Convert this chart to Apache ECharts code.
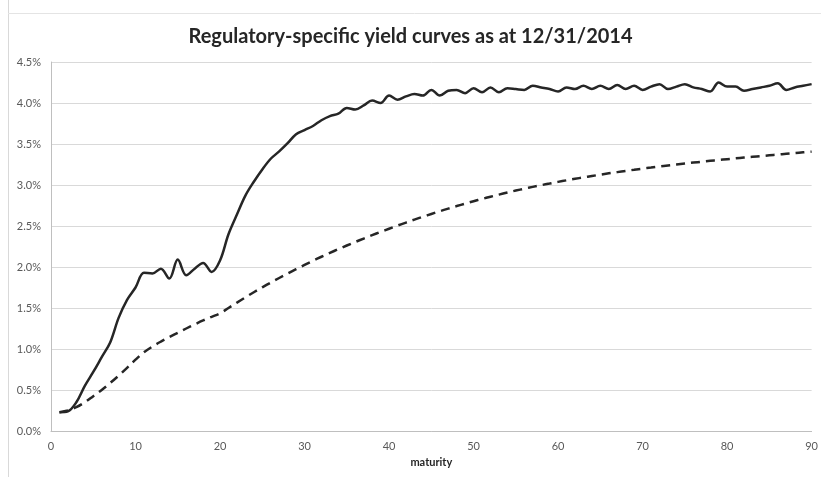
<!DOCTYPE html>
<html>
<head>
<meta charset="utf-8">
<script src="https://cdn.jsdelivr.net/npm/echarts@6/dist/echarts.min.js"></script>
<style>html,body{margin:0;padding:0;background:#fff;}#c{width:821px;height:477px;}</style>
</head>
<body>
<div id="c"></div>
<script>
var titleText = 'Regulatory-specific yield curves as at 12/31/2014';
var xAxisName = 'maturity';
var xTicks = [0, 10, 20, 30, 40, 50, 60, 70, 80, 90];
var yTicks = [0, 0.5, 1.0, 1.5, 2.0, 2.5, 3.0, 3.5, 4.0, 4.5];

var maturities = [1,2,3,4,5,6,7,8,9,10,11,12,13,14,15,16,17,18,19,20,21,22,23,24,25,26,27,28,29,30,
  31,32,33,34,35,36,37,38,39,40,41,42,43,44,45,46,47,48,49,50,51,52,53,54,55,56,57,58,59,60,
  61,62,63,64,65,66,67,68,69,70,71,72,73,74,75,76,77,78,79,80,81,82,83,84,85,86,87,88,89,90];

// solid curve (%)
var solidCurve = [0.23,0.24,0.35,0.55,0.72,0.90,1.08,1.38,1.60,1.75,
  1.93,1.92,1.98,1.86,2.09,1.90,1.98,2.05,1.94,2.08,
  2.40,2.64,2.87,3.04,3.19,3.32,3.41,3.51,3.62,3.67,
  3.72,3.79,3.84,3.87,3.94,3.92,3.97,4.03,4.00,4.09,
  4.04,4.08,4.11,4.09,4.16,4.09,4.15,4.16,4.12,4.18,
  4.13,4.19,4.13,4.18,4.17,4.16,4.21,4.19,4.17,4.14,
  4.19,4.17,4.21,4.17,4.21,4.17,4.22,4.17,4.21,4.16,
  4.20,4.23,4.17,4.20,4.23,4.19,4.17,4.14,4.25,4.20,
  4.20,4.15,4.17,4.19,4.21,4.24,4.16,4.19,4.21,4.23];

// dashed curve (%)
var dashedCurve = [0.230,0.250,0.290,0.350,0.425,0.500,0.585,0.675,0.770,0.870,
  0.960,1.030,1.090,1.145,1.198,1.250,1.300,1.348,1.392,1.435,
  1.500,1.565,1.630,1.692,1.752,1.810,1.866,1.920,1.973,2.025,
  2.076,2.125,2.172,2.218,2.262,2.305,2.347,2.388,2.428,2.467,
  2.505,2.542,2.578,2.613,2.647,2.680,2.712,2.743,2.773,2.802,
  2.830,2.857,2.883,2.908,2.932,2.955,2.977,2.998,3.018,3.038,
  3.057,3.075,3.093,3.110,3.126,3.142,3.157,3.172,3.186,3.200,
  3.213,3.226,3.238,3.250,3.262,3.273,3.284,3.295,3.305,3.315,
  3.325,3.335,3.344,3.353,3.362,3.371,3.380,3.389,3.398,3.407];

function pairs(xs, ys) { return xs.map(function (x, i) { return [x, ys[i]]; }); }

var chart = echarts.init(document.getElementById('c'), null, {renderer: 'canvas'});
chart.setOption({
  animation: false,
  backgroundColor: '#ffffff',
  title: {
    text: titleText, left: 'center', top: 22,
    textStyle: {fontFamily: 'Lato', fontWeight: 'bold', fontSize: 20, color: '#262626'}
  },
  graphic: [
    {type: 'line', shape: {x1: 8.5, y1: 0, x2: 8.5, y2: 477}, style: {stroke: '#d9d9d9', lineWidth: 1}},
    {type: 'line', shape: {x1: 8, y1: 13.5, x2: 821, y2: 13.5}, style: {stroke: '#e4e4e4', lineWidth: 1}}
  ],
  grid: {left: 51, right: 8, top: 62, bottom: 46, containLabel: false},
  xAxis: {
    type: 'value', min: xTicks[0], max: xTicks[xTicks.length - 1], interval: 10,
    name: xAxisName, nameLocation: 'middle', nameGap: 26,
    nameTextStyle: {fontFamily: 'Lato', fontWeight: 'bold', fontSize: 11, color: '#262626'},
    axisLine: {lineStyle: {color: '#bfbfbf', width: 1}},
    axisTick: {show: false},
    splitLine: {show: false},
    axisLabel: {fontFamily: 'Lato', fontSize: 11, color: '#595959', margin: 10}
  },
  yAxis: {
    type: 'value', min: yTicks[0], max: yTicks[yTicks.length - 1], interval: 0.5,
    axisLine: {show: true, lineStyle: {color: '#bfbfbf', width: 1}},
    axisTick: {show: false},
    splitLine: {lineStyle: {color: '#d9d9d9', width: 1}},
    axisLabel: {fontFamily: 'Lato', fontSize: 11, color: '#595959', margin: 10,
      formatter: function (v) { return v.toFixed(1) + '%'; }}
  },
  series: [
    {type: 'line', data: pairs(maturities, solidCurve), smooth: 0.35, showSymbol: false,
      lineStyle: {color: '#262626', width: 2.5}},
    {type: 'line', data: pairs(maturities, dashedCurve), smooth: 0.35, showSymbol: false,
      lineStyle: {color: '#262626', width: 2.5, type: [9, 6]}}
  ]
});
</script>
</body>
</html>
